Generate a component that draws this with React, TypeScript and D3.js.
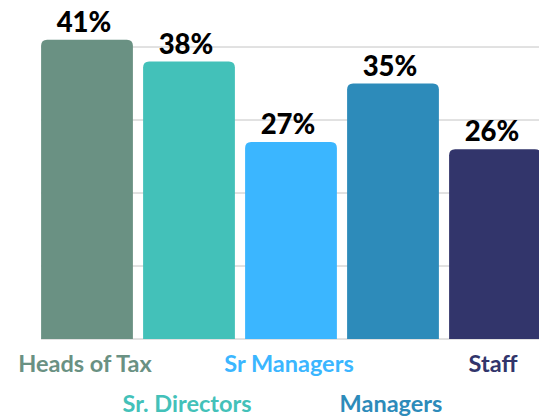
import React from "react";
import * as d3 from "d3";

const categories = ["Heads of Tax", "Sr. Directors", "Sr Managers", "Managers", "Staff"];
const values = [41, 38, 27, 35, 26];
const colors = ["#6a9183", "#43c1b9", "#3bb6ff", "#2d8bba", "#32356b"];
const gridTicks = [0, 10, 20, 30, 40];

const W = 539;
const H = 417;

function topRoundedRect(x: number, y: number, w: number, h: number, r: number) {
  const rr = Math.min(r, w / 2, h);
  return `M${x},${y + h}V${y + rr}Q${x},${y} ${x + rr},${y}H${x + w - rr}Q${x + w},${y} ${x + w},${y + rr}V${y + h}Z`;
}

export default function App() {
  const x = d3.scaleBand<string>().domain(categories).range([36, 546]).paddingInner(0.1).paddingOuter(0.05);
  const y = d3.scaleLinear().domain([0, 40]).range([339, 47]);
  const bw = x.bandwidth();
  return (
    <svg width={W} height={H} style={{ position: "absolute", left: 0, top: 0, display: "block" }}>
      <rect width={W} height={H} fill="#ffffff" />
      {gridTicks.map((t) => (
        <line key={t} x1={41} x2={W} y1={y(t)} y2={y(t)} stroke="#c4c4c4" strokeWidth={1} />
      ))}
      {categories.map((c, i) => {
        const x0 = x(c)!;
        const y0 = y(values[i]);
        return (
          <g key={c}>
            <path d={topRoundedRect(x0, y0, bw, y(0) - y0, 6)} fill={colors[i]} />
            <text
              x={x0 + bw / 2 - 3}
              y={y0 - 8}
              textAnchor="middle"
              fontFamily="Lato, 'Open Sans', sans-serif"
              fontWeight={900}
              fontSize={27.5}
              fill="#000000"
            >
              {values[i]}%
            </text>
            <text
              x={x0 + bw / 2 - 2}
              y={i % 2 === 0 ? 372 : 412}
              textAnchor="middle"
              fontFamily="Lato, 'Open Sans', sans-serif"
              fontWeight={700}
              fontSize={23.5}
              fill={colors[i]}
            >
              {c}
            </text>
          </g>
        );
      })}
    </svg>
  );
}
